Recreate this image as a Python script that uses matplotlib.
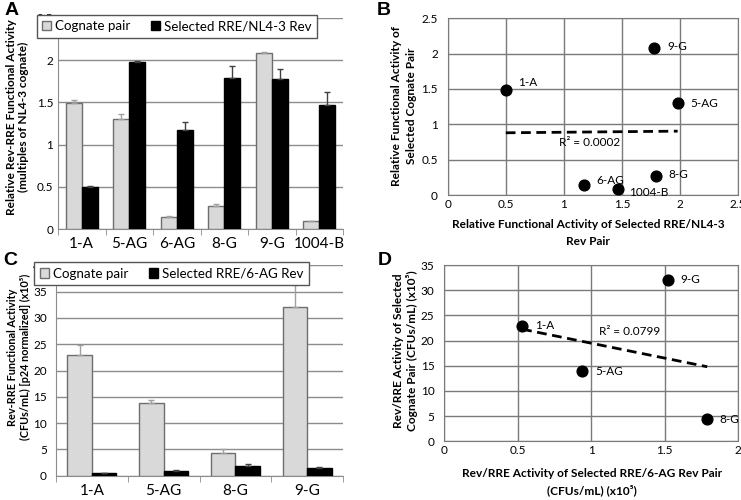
import numpy as np
import matplotlib
matplotlib.use("Agg")
import matplotlib.pyplot as plt
from matplotlib.ticker import MultipleLocator

plt.rcParams['font.family'] = ['Lato', 'DejaVu Sans']

# ---- data ----
cats_a = ["1-A", "5-AG", "6-AG", "8-G", "9-G", "1004-B"]
cog_a = [1.49, 1.30, 0.14, 0.27, 2.08, 0.09]
cog_a_err = [0.035, 0.06, 0.01, 0.03, 0.015, 0.01]
sel_a = [0.50, 1.98, 1.17, 1.79, 1.78, 1.47]
sel_a_err = [0.005, 0.01, 0.10, 0.14, 0.11, 0.15]

cats_c = ["1-A", "5-AG", "8-G", "9-G"]
cog_c = [22.9, 13.9, 4.4, 32.1]
cog_c_err = [1.9, 0.45, 0.6, 4.1]
sel_c = [0.53, 0.94, 1.79, 1.52]
sel_c_err = [0.05, 0.05, 0.42, 0.08]

legend_a = ["Cognate pair", "Selected RRE/NL4-3 Rev"]
legend_c = ["Cognate pair", "Selected RRE/6-AG Rev"]

GRAY = "#d9d9d9"
EDGE = "#6e6e6e"
GRID = "#8c8c8c"
LABEL_FS = 8.6
W, H = 741, 500

fig = plt.figure(figsize=(7.41, 5.0), dpi=100)

def px_text(x, y, s, rot=0, fs=LABEL_FS, ls=1.2):
    fig.text(x / W, 1 - y / H, s, rotation=rot, ha="center", va="center",
             fontsize=fs, fontweight="bold", linespacing=ls, multialignment="center")

def bar_panel(ax, cats, cog, cog_err, sel, sel_err, ymax, ystep, labels, ypad):
    x = np.arange(len(cats))
    w = 0.34
    ax.bar(x - w/2, cog, w, color=GRAY, edgecolor=EDGE, linewidth=1.0, zorder=3)
    ax.bar(x + w/2, sel, w, color="black", edgecolor="black", linewidth=1.0, zorder=3)
    ax.errorbar(x - w/2, cog, yerr=[np.zeros(len(cog)), cog_err], fmt="none",
                ecolor="#a0a0a0", elinewidth=1.0, capsize=2, capthick=1.0, zorder=4)
    ax.errorbar(x + w/2, sel, yerr=[np.zeros(len(sel)), sel_err], fmt="none",
                ecolor="#404040", elinewidth=1.0, capsize=2, capthick=1.0, zorder=4)
    ax.set_xlim(-0.5, len(cats) - 0.5)
    ax.set_ylim(0, ymax)
    ax.yaxis.set_major_locator(MultipleLocator(ystep))
    ax.yaxis.grid(True, color=GRID, linewidth=1.0, zorder=0)
    ax.set_axisbelow(True)
    for s in ["top", "right"]:
        ax.spines[s].set_visible(False)
    for s in ["left", "bottom"]:
        ax.spines[s].set_color(GRID)
    ax.set_xticks(x)
    ax.set_xticklabels(cats, fontsize=11)
    ax.set_xticks(np.arange(len(cats) + 1) - 0.5, minor=True)
    ax.tick_params(axis="x", which="major", length=0, pad=6)
    ax.tick_params(axis="x", which="minor", length=4, color=GRID, direction="out")
    ax.tick_params(axis="y", length=0, labelsize=8.5, pad=ypad)
    ax.yaxis.set_major_formatter(matplotlib.ticker.FuncFormatter(lambda v, p: f"{v:g}"))
    leg = ax.legend(labels, loc="upper left", bbox_to_anchor=(-0.075, 1.015), ncol=2,
                    fontsize=9.6, frameon=True, fancybox=False, handlelength=0.7,
                    handleheight=0.7, handletextpad=0.3, columnspacing=1.5,
                    borderpad=0.4, borderaxespad=0)
    leg.get_frame().set_edgecolor("#555555")
    leg.get_frame().set_linewidth(1.0)
    leg.get_frame().set_alpha(1)
    leg.set_zorder(10)

def scatter_panel(ax, xs, ys, names, xlim, ylim, xstep, ystep, offsets, r2text, r2pos):
    ax.scatter(xs, ys, s=60, color="black", zorder=4, clip_on=False)
    for xv, yv, nm, off in zip(xs, ys, names, offsets):
        ax.annotate(nm, (xv, yv), xytext=off, textcoords="offset points",
                    fontsize=8.5, va="center", ha="left")
    k, b = np.polyfit(xs, ys, 1)
    xx = np.array([min(xs), max(xs)])
    ax.plot(xx, k * xx + b, color="black", linestyle=(0, (3.5, 2)), linewidth=2.0, zorder=3)
    ax.text(r2pos[0], r2pos[1], r2text, fontsize=8.5, ha="center", va="center")
    ax.set_xlim(*xlim)
    ax.set_ylim(*ylim)
    ax.xaxis.set_major_locator(MultipleLocator(xstep))
    ax.yaxis.set_major_locator(MultipleLocator(ystep))
    ax.grid(True, color="#7a7a7a", linewidth=1.0, zorder=0)
    ax.set_axisbelow(True)
    for s in ax.spines.values():
        s.set_color("#7a7a7a")
    ax.tick_params(length=0, labelsize=8.5)
    ax.tick_params(axis="y", pad=7)
    ax.tick_params(axis="x", pad=3)
    fmt = matplotlib.ticker.FuncFormatter(lambda v, p: f"{v:g}")
    ax.xaxis.set_major_formatter(fmt)
    ax.yaxis.set_major_formatter(fmt)

# Panel A
axA = fig.add_axes([0.0783, 0.542, 0.3846, 0.422])
bar_panel(axA, cats_a, cog_a, cog_a_err, sel_a, sel_a_err, 2.5, 0.5, legend_a, 3.5)
px_text(17.5, 117, "Relative Rev-RRE Functional Activity\n(multiples of NL4-3 cognate)",
        rot=90, ls=1.2)

# Panel C
axC = fig.add_axes([0.0756, 0.0486, 0.3873, 0.4206])
bar_panel(axC, cats_c, cog_c, cog_c_err, sel_c, sel_c_err, 40, 5, legend_c, 6.5)
px_text(19, 357, "Rev-RRE Functional Activity\n(CFUs/mL) [p24 normalized] (x10⁵)",
        rot=90, fs=7.8, ls=1.15)

# Panel B
axB = fig.add_axes([0.6042, 0.61, 0.3918, 0.3534])
scatter_panel(axB, sel_a, cog_a, cats_a, (0, 2.5), (0, 2.5), 0.5, 0.5,
              [(9, 5), (9, 0), (9, 3), (9, 1), (9, 1), (8, -3)],
              "R² = 0.0002", (1.225, 0.736))
px_text(588, 233, "Relative Functional Activity of Selected RRE/NL4-3\nRev Pair", ls=1.6)
px_text(404, 106, "Relative Functional Activity of\nSelected Cognate Pair", rot=90, ls=1.45)

# Panel D
axD = fig.add_axes([0.5996, 0.1174, 0.3964, 0.3526])
scatter_panel(axD, sel_c, cog_c, cats_c, (0, 2), (0, 35), 0.5, 5,
              [(9, 0), (9, 0), (9, 0), (9, 0)],
              "R² = 0.0799", (1.265, 21.7))
px_text(591.7, 482, "Rev/RRE Activity of Selected RRE/6-AG Rev Pair\n(CFUs/mL) (x10⁵)", ls=1.55)
px_text(405.5, 351, "Rev/RRE Activity of Selected\nCognate Pair (CFUs/mL) (x10⁵)",
        rot=90, ls=1.2)

# Panel letters
for lbl, px, py in [("A", 5, 2), ("B", 377, 2), ("C", 3, 252), ("D", 378, 252)]:
    fig.text(px / W, 1 - py / H, lbl, fontsize=14, fontweight="bold",
             ha="left", va="top", family=["Liberation Sans", "DejaVu Sans"])

fig.savefig("out.png", dpi=100)
